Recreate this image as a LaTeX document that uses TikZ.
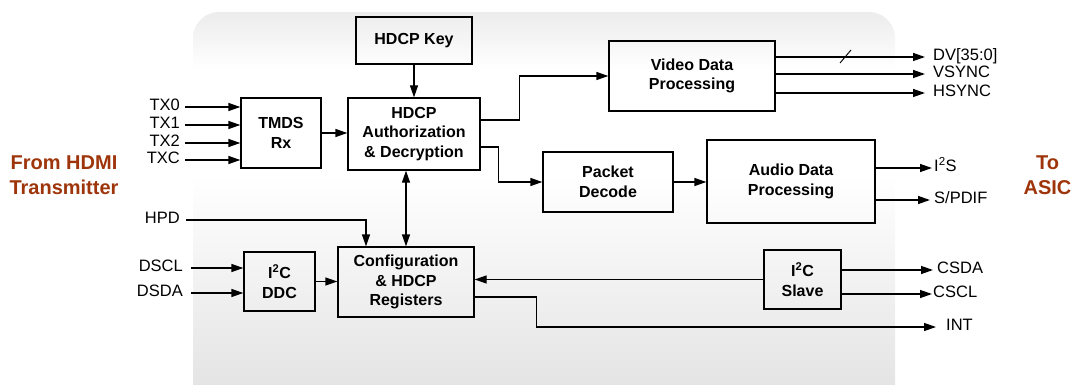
\documentclass[tikz,border=0pt]{standalone}
\usepackage{fontspec}
\setmainfont{Liberation Sans}
\usetikzlibrary{arrows.meta,calc}
\definecolor{brownred}{RGB}{158,52,10}
\definecolor{bgtop}{RGB}{236,236,236}
\definecolor{bgbot}{RGB}{228,228,228}
\pgfdeclareverticalshading{panelshade}{100bp}{color(0bp)=(bgbot); color(29bp)=(bgbot); color(55bp)=(white); color(68bp)=(white); color(75bp)=(bgtop); color(100bp)=(bgtop)}
\begin{document}
\begin{tikzpicture}[x=1pt,y=-1pt,
  blk/.style={draw=black, line width=1.3pt, inner sep=0pt, align=center,
    font=\fontsize{16}{19.5}\selectfont\bfseries},
  sig/.style={inner sep=0pt, text height=0.72em, text depth=0pt,
    font=\fontsize{16.5}{18}\selectfont},
  side/.style={align=center, text=brownred,
    font=\fontsize{20}{25}\selectfont\bfseries},
  wire/.style={line width=1.3pt},
  arr/.style={wire, -{Triangle[length=12pt,width=8pt]}},
  darr/.style={wire, {Triangle[length=12pt,width=8pt]}-{Triangle[length=12pt,width=8pt]}}
]
\useasboundingbox (0,0) rectangle (1076,385);
% background panel
\shade[rounded corners=26pt, shading=panelshade]
  (193,12) rectangle (895,420);

% blocks
\node[blk, minimum width=116pt, minimum height=47pt] (key) at (414,40.5) {HDCP Key};
\node[blk, minimum width=80pt, minimum height=70pt] (tmds) at (281,133) {TMDS\\Rx};
\node[blk, minimum width=132pt, minimum height=72pt] (hdcp) at (414,134) {HDCP\\Authorization\\\& Decryption};
\node[blk, minimum width=166pt, minimum height=70pt] (video) at (692,76) {Video Data\\Processing};
\node[blk, minimum width=130pt, minimum height=60pt] (packet) at (608,182) {Packet\\Decode};
\node[blk, minimum width=168pt, minimum height=83pt] (audio) at (791,181.5) {Audio Data\\Processing};
\node[blk, minimum width=71pt, minimum height=59pt] (ddc) at (279.5,281.5) {I\textsuperscript{2}C\\DDC};
\node[blk, minimum width=136pt, minimum height=70pt] (config) at (406,282) {Configuration\\\& HDCP\\Registers};
\node[blk, minimum width=77pt, minimum height=59pt] (slave) at (802.5,279.5) {I\textsuperscript{2}C\\Slave};

% side labels
\node[side] (from) at (64,175.5) {From HDMI\\Transmitter};
\node[side] (to) at (1047.5,175.5) {To\\ASIC};

% input labels
\node[sig, anchor=east] (tx0) at (180,107) {TX0};
\node[sig, anchor=east] (tx1) at (180,125) {TX1};
\node[sig, anchor=east] (tx2) at (180,143) {TX2};
\node[sig, anchor=east] (txc) at (180,160) {TXC};
\node[sig, anchor=east] (hpd) at (180,220) {HPD};
\node[sig, anchor=east] (dscl) at (183,268) {DSCL};
\node[sig, anchor=east] (dsda) at (183,293) {DSDA};

% output labels
\node[sig, anchor=west] (dv) at (933,57) {DV[35:0]};
\node[sig, anchor=west] (vs) at (933,74) {VSYNC};
\node[sig, anchor=west] (hs) at (933,93) {HSYNC};
\node[sig, anchor=west] (i2s) at (934,168) {I\textsuperscript{2}S};
\node[sig, anchor=west] (spdif) at (934,200) {S/PDIF};
\node[sig, anchor=west] (csda) at (937,270) {CSDA};
\node[sig, anchor=west] (cscl) at (933,294) {CSCL};
\node[sig, anchor=west] (int) at (946,327) {INT};

% input wires
\foreach \s in {tx0,tx1,tx2,txc}
  \draw[arr] ([xshift=5pt]\s.east) -- (\s -| tmds.west);
\draw[arr] ([xshift=6pt]hpd.east) -| ([xshift=-40pt]config.north);
\draw[arr] ([xshift=8pt]dscl.east) -- (dscl -| ddc.west);
\draw[arr] ([xshift=8pt]dsda.east) -- (dsda -| ddc.west);

% internal wires
\draw[arr] (tmds.east) -- (hdcp.west |- tmds.east);
\draw[arr] (key.south) -- (hdcp.north);
\draw[darr] (hdcp.south -| config.north) -- (config.north);
\draw[arr] ([yshift=14pt]hdcp.east) -- ++(39,0) |- (video.west);
\draw[arr] ([yshift=-13pt]hdcp.east) -- ++(18,0) |- (packet.west);
\draw[arr] (packet.east) -- (packet.east -| audio.west);
\draw[arr] (ddc.east) -- (ddc.east -| config.west);
\draw[arr] (slave.west) -- (slave.west -| config.east);
\coordinate (intc) at (int.west);
\draw[arr] ([yshift=-15pt]config.east) -- ++(62,0) |- ([xshift=-10pt]intc);

% output wires
\draw[arr] (video.east |- dv) -- ([xshift=-8pt]dv.west);
\draw[arr] (video.east |- vs) -- ([xshift=-8pt]vs.west);
\draw[arr] (video.east |- hs) -- ([xshift=-8pt]hs.west);
\coordinate (slash) at (845,57);
\draw[line width=0.9pt] ($(slash)+(-5,6)$) -- ($(slash)+(6,-7)$);
\draw[arr] (audio.east |- i2s) -- ([xshift=-2pt]i2s.west);
\draw[arr] (audio.east |- spdif) -- ([xshift=-4pt]spdif.west);
\draw[arr] (slave.east |- csda) -- ([xshift=-4pt]csda.west);
\draw[arr] (slave.east |- cscl) -- ([xshift=-1pt]cscl.west);
\end{tikzpicture}
\end{document}
